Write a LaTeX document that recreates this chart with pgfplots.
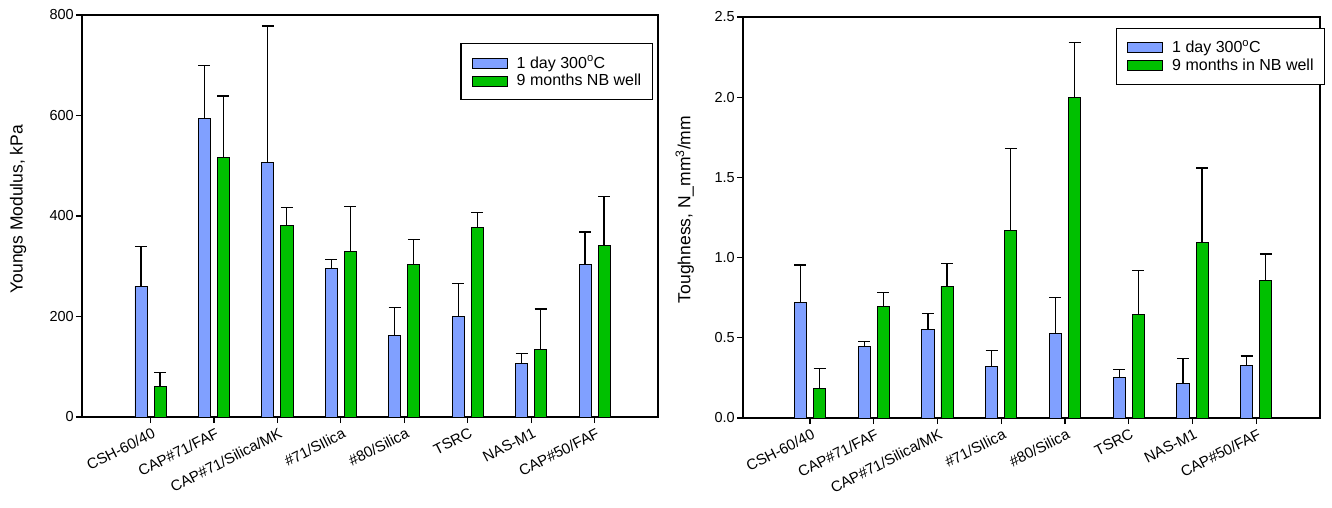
\documentclass[border=0pt]{standalone}
\usepackage{fontspec}
\setmainfont{Liberation Sans}
\usepackage{pgfplots}
\pgfplotsset{compat=1.18}
\usepackage{pgfplotstable}

\definecolor{dayblue}{RGB}{128,160,255}
\definecolor{wellgreen}{RGB}{0,192,0}

% columns: category index, 1 day 300C (value, upper error), 9 months in well (value, upper error)
\pgfplotstableread{
x b   be  g   ge
1 260 80  60  29
2 595 105 516 123
3 506 272 382 35
4 295 18  329 90
5 163 55  304 50
6 200 66  377 30
7 107 20  134 81
8 303 65  342 97
}\modulus

\pgfplotstableread{
x b     be    g     ge
1 0.720 0.234 0.185 0.126
2 0.446 0.033 0.697 0.083
3 0.550 0.099 0.820 0.141
4 0.320 0.101 1.171 0.507
5 0.527 0.222 2.000 0.343
6 0.255 0.046 0.645 0.276
7 0.218 0.151 1.096 0.462
8 0.328 0.058 0.859 0.163
}\toughness

\pgfplotsset{
  chartbase/.style={
    scale only axis,
    xmax=9, ymin=0,
    xtick={1,...,8},
    xticklabels={CSH-60/40, CAP\#71/FAF, CAP\#71/Silica/MK, \#71/SIlica,
                 \#80/Silica, TSRC, NAS-M1, CAP\#50/FAF},
    xtick pos=bottom, ytick pos=left,
    tick align=outside, major tick length=6bp,
    minor tick num=0,
    axis line style={line width=1.3bp, black},
    tick style={line width=1.2bp, black},
    xticklabel style={rotate=27, anchor=north east, inner sep=1bp, yshift=-3bp,
      font=\fontsize{15bp}{18bp}\selectfont},
    yticklabel style={inner sep=2bp, font=\fontsize{14.5bp}{17bp}\selectfont},
    ylabel style={font=\fontsize{17.5bp}{20bp}\selectfont},
    /pgf/number format/assume math mode=true,
    legend cell align=left,
    legend style={draw=black, line width=1.2bp, inner xsep=11bp, inner ysep=12bp,
      row sep=4bp, column sep=9bp, nodes={inner sep=0pt},
      cells={anchor=west}, font=\fontsize{16bp}{19bp}\selectfont},
  },
  barlegend/.style={
    legend image code/.code={
      \draw[##1, line width=0.8bp] (0bp,-5bp) rectangle (35bp,5bp);
    }
  },
  errstyle/.style={
    error bars/.cd, y dir=plus, y explicit,
    error bar style={line width=1.2bp, black},
    error mark options={rotate=90, black, line width=1.2bp, mark size=6bp}
  },
  daybars/.style={ybar, bar width=0.19, bar shift=0pt, fill=dayblue,
    draw=black, line width=0.8bp, barlegend, errstyle},
  wellbars/.style={ybar, bar width=0.19, bar shift=0pt, fill=wellgreen,
    draw=black, line width=0.8bp, barlegend, errstyle},
}

\begin{document}
\fontsize{14bp}{17bp}\selectfont
\begin{tikzpicture}
\useasboundingbox (0,0) rectangle (1332bp,508bp);

% Young's modulus
\begin{axis}[chartbase,
  at={(82bp,91bp)}, anchor=south west,
  width=576bp, height=402bp,
  xmin=-0.08, ymax=800,
  ytick={0,200,400,600,800},
  ylabel={Youngs Modulus, kPa},
  ylabel style={at={(axis description cs:-0.111,0.517)}, anchor=center},
  legend style={at={(0.991,0.930)}, anchor=north east},
]
\addplot[daybars] table[x expr=\thisrow{x}-0.15, y=b, y error=be] {\modulus};
\addplot[wellbars] table[x expr=\thisrow{x}+0.15, y=g, y error=ge] {\modulus};
\legend{1 day 300\textsuperscript{o}C, 9 months NB well}
\end{axis}

% Toughness
\begin{axis}[chartbase,
  at={(743bp,90bp)}, anchor=south west,
  width=577bp, height=401bp,
  xmin=-0.05, ymax=2.5,
  ytick={0,0.5,1,1.5,2,2.5},
  yticklabel style={/pgf/number format/fixed, /pgf/number format/fixed zerofill,
    /pgf/number format/precision=1},
  ylabel={Toughness, N\_mm\textsuperscript{3}/mm},
  ylabel style={at={(axis description cs:-0.101,0.52)}, anchor=center},
  legend style={at={(1.009,0.9726)}, anchor=north east},
]
\addplot[daybars] table[x expr=\thisrow{x}-0.15, y=b, y error=be] {\toughness};
\addplot[wellbars] table[x expr=\thisrow{x}+0.15, y=g, y error=ge] {\toughness};
\legend{1 day 300\textsuperscript{o}C, 9 months in NB well}
\end{axis}
\end{tikzpicture}
\end{document}
